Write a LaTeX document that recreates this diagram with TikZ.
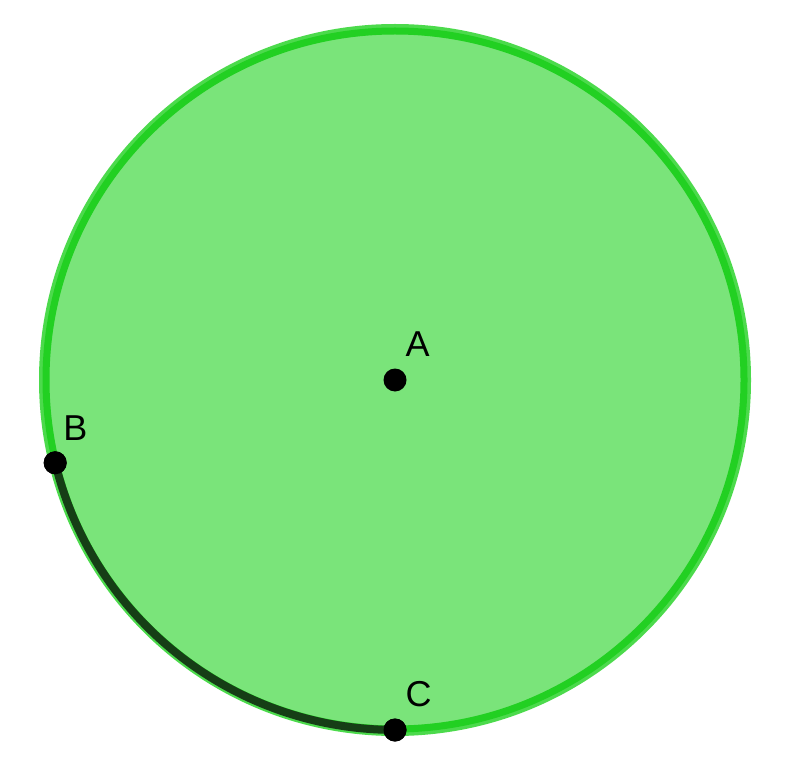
\documentclass[tikz,border=0pt]{standalone}
\usepackage{fontspec}
\setmainfont{Liberation Sans}
\definecolor{diskfill}{RGB}{122,228,122}
\definecolor{rimdark}{RGB}{34,208,34}
\definecolor{rimlight}{RGB}{76,218,76}
\definecolor{arcdark}{RGB}{22,62,22}
\tikzset{
  ptdot/.style={circle,fill=black,inner sep=0pt,minimum size=23pt},
  ptlabel/.style={inner sep=0pt,anchor=base,font=\fontsize{36}{40}\selectfont},
}
\begin{document}
\begin{tikzpicture}[x=1pt,y=-1pt]
\useasboundingbox (0,0) rectangle (799,783);
\coordinate (O) at (395,380);
\fill[diskfill] (O) circle[radius=349];
\draw[rimlight,line width=10pt] (O) circle[radius=351];
\draw[rimdark,line width=7pt] (O) circle[radius=349];
\node[ptdot] (A) at (395,380) {};
\node[ptdot] (B) at (55.2,462.8) {};
\node[ptdot] (C) at (395,730) {};
\draw[arcdark,line width=8pt] (B.center) arc[start angle=166.3,end angle=90,radius=350];
\node[ptdot] at (B.center) {};
\node[ptdot] at (C.center) {};
\node[ptlabel] (LA) at (417.5,356.5) {A};
\node[ptlabel] (LB) at (75.5,440.5) {B};
\node[ptlabel] (LC) at (418.5,706.5) {C};
\end{tikzpicture}
\end{document}
